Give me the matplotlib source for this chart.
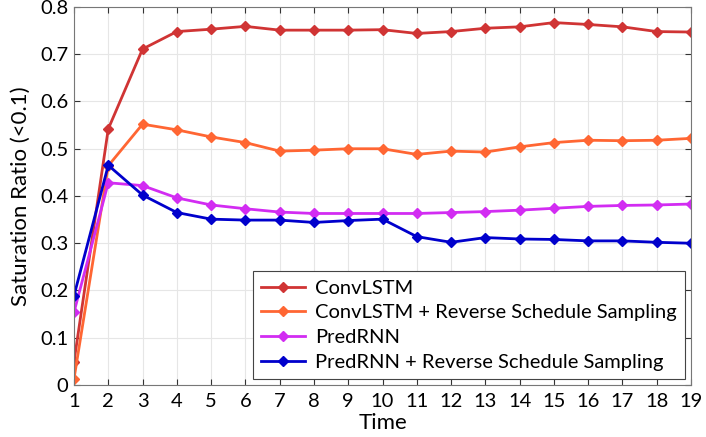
import numpy as np
import matplotlib.pyplot as plt

time = np.arange(1, 20)

convlstm = [0.049, 0.542, 0.711, 0.748, 0.753, 0.759, 0.751, 0.751, 0.751, 0.752,
            0.744, 0.748, 0.755, 0.758, 0.767, 0.763, 0.758, 0.748, 0.747]
convlstm_rss = [0.013, 0.464, 0.552, 0.540, 0.525, 0.513, 0.495, 0.497, 0.500, 0.500,
                0.488, 0.495, 0.493, 0.504, 0.513, 0.518, 0.517, 0.518, 0.522]
predrnn = [0.154, 0.428, 0.422, 0.396, 0.381, 0.373, 0.366, 0.363, 0.363, 0.363,
           0.363, 0.365, 0.367, 0.370, 0.374, 0.378, 0.380, 0.381, 0.383]
predrnn_rss = [0.189, 0.465, 0.402, 0.365, 0.351, 0.349, 0.349, 0.344, 0.348, 0.351,
               0.314, 0.302, 0.312, 0.309, 0.308, 0.305, 0.305, 0.302, 0.300]

labels = ["ConvLSTM", "ConvLSTM + Reverse Schedule Sampling",
          "PredRNN", "PredRNN + Reverse Schedule Sampling"]
colors = ["#D03434", "#FF6633", "#D22CF2", "#0000CC"]

plt.rcParams['font.family'] = ['Lato', 'DejaVu Sans']

fig = plt.figure(figsize=(7.06, 4.37), dpi=100)
ax = fig.add_axes([0.1048, 0.119, 0.874, 0.865])

for ys, lab, c in zip([convlstm, convlstm_rss, predrnn, predrnn_rss], labels, colors):
    ax.plot(time, ys, color=c, lw=2, marker='D', markersize=5, label=lab)

ax.set_xlim(1, 19)
ax.set_ylim(0, 0.8)
ax.set_xticks(time)
ax.set_yticks(np.arange(0, 0.81, 0.1))
ax.set_yticklabels(["0"] + ["%.1f" % v for v in np.arange(0.1, 0.81, 0.1)])
ax.tick_params(direction='in', top=True, right=True, labelsize=14.5, length=4,
               color='#333333', pad=4)
ax.tick_params(axis='x', pad=6)
ax.grid(True, color='#e6e6e6', lw=0.8)
for s in ax.spines.values():
    s.set_color('#777777')
    s.set_linewidth(0.8)

ax.set_xlabel("Time", fontsize=16, labelpad=2)
ax.set_ylabel("Saturation Ratio (<0.1)", fontsize=16, labelpad=7)

leg = ax.legend(loc='lower right', fontsize=14.5, fancybox=False, framealpha=1,
                edgecolor='#444444', borderaxespad=0.3, labelspacing=0.38,
                handlelength=2.2, handletextpad=0.5, borderpad=0.4)
leg.get_frame().set_linewidth(0.8)

fig.savefig("out.png", dpi=100)
